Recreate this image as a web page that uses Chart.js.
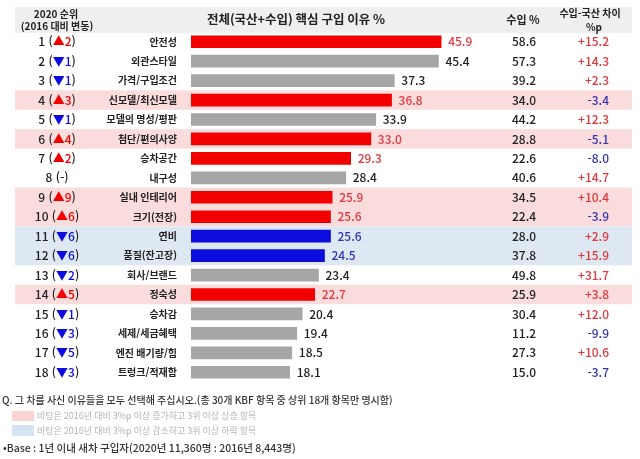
<!DOCTYPE html>
<html lang="ko">
<head>
<meta charset="utf-8">
<script src="https://cdn.jsdelivr.net/npm/chart.js@4"></script>
<style>
  body { margin: 0; background: #fff; }
  canvas { display: block; }
</style>
</head>
<body>
<canvas id="reasonChart" width="640" height="459"></canvas>
<script>
// Categories (purchase reasons), 2020 ranking order
const reasons = ['안전성', '외관스타일', '가격/구입조건', '신모델/최신모델', '모델의 명성/평판', '첨단/편의사양',
  '승차공간', '내구성', '실내 인테리어', '크기(전장)', '연비', '품질(잔고장)', '회사/브랜드', '정숙성',
  '승차감', '세제/세금혜택', '엔진 배기량/힘', '트렁크/적재함'];

// Rank change vs 2016
const rankMove = ['▲2', '▼1', '▼1', '▲3', '▼1', '▲4', '▲2', '-', '▲9', '▲6', '▼6', '▼6', '▼2', '▲5', '▼1', '▼3', '▼5', '▼3'];

// Total (domestic + imported) %
const totalPct = [45.9, 45.4, 37.3, 36.8, 33.9, 33.0, 29.3, 28.4, 25.9, 25.6, 25.6, 24.5, 23.4, 22.7, 20.4, 19.4, 18.5, 18.1];

// Imported %
const importPct = [58.6, 57.3, 39.2, 34.0, 44.2, 28.8, 22.6, 40.6, 34.5, 22.4, 28.0, 37.8, 49.8, 25.9, 30.4, 11.2, 27.3, 15.0];

// Imported - domestic gap, %p
const gapPct = [15.2, 14.3, 2.3, -3.4, 12.3, -5.1, -8.0, 14.7, 10.4, -3.9, 2.9, 15.9, 31.7, 3.8, 12.0, -9.9, 10.6, -3.7];

// Bar group: up = rising item, down = falling item, '' = other
const barGroup = ['up', '', '', 'up', '', 'up', 'up', '', 'up', 'up', 'down', 'down', '', 'up', '', '', '', ''];

// Row background: rows that moved 3%p and 3 ranks or more
const rowShade = ['', '', '', 'up', '', 'up', '', '', 'up', 'up', 'down', 'down', '', 'up', '', '', '', ''];

const RED = '#f20000', BLUE = '#0c0cdc', GRAY = '#a6a6a6';
const RED_TXT = '#e0383c', BLUE_TXT = '#3434b0';
const PINK_BG = '#fbdcdc', BLUE_BG = '#dde8f3';
const KR = '"Noto Sans CJK KR", "Noto Sans", sans-serif';

const tablePlugin = {
  id: 'tablePlugin',
  beforeDraw(chart) {
    const ctx = chart.ctx;
    const y = chart.scales.y;
    const half = (y.getPixelForValue(1) - y.getPixelForValue(0)) / 2;
    ctx.save();
    ctx.fillStyle = '#fff';
    ctx.fillRect(0, 0, chart.width, chart.height);
    // header band
    ctx.fillStyle = '#efefef';
    ctx.fillRect(15, 7, 617, 26);
    // shaded rows
    rowShade.forEach((s, i) => {
      if (!s) return;
      const c = y.getPixelForValue(i);
      ctx.fillStyle = s === 'up' ? PINK_BG : BLUE_BG;
      ctx.fillRect(15, c - half, 617, half * 2);
    });
    ctx.restore();
  },
  afterDraw(chart) {
    const ctx = chart.ctx;
    const y = chart.scales.y;
    const bars = chart.getDatasetMeta(0).data;
    ctx.save();
    ctx.textBaseline = 'middle';

    // header texts
    ctx.fillStyle = '#222';
    ctx.textAlign = 'center';
    ctx.font = 'bold 10px ' + KR;
    ctx.fillText('2020 순위', 56, 14);
    ctx.fillText('(2016 대비 변동)', 57, 26);
    ctx.fillText('수입-국산 차이', 590, 13);
    ctx.fillText('%p', 594, 27);
    ctx.font = 'bold 11px ' + KR;
    ctx.fillText('수입 %', 523, 20);
    ctx.font = 'bold 12.5px ' + KR;
    ctx.fillText('전체(국산+수입) 핵심 구입 이유 %', 296, 19);

    reasons.forEach((r, i) => {
      const cy = y.getPixelForValue(i);

      // rank column: "n (▲k)"
      ctx.font = '500 12px ' + KR;
      const move = rankMove[i];
      const moveColor = move[0] === '▲' ? RED : (move[0] === '▼' ? BLUE : '#222');
      const parts = [[(i + 1) + ' (', '#222'], [move, moveColor], [')', '#222']];
      const total = parts.reduce((w, p) => w + ctx.measureText(p[0]).width, 0);
      let x = 57 - total / 2;
      ctx.textAlign = 'left';
      parts.forEach(p => {
        ctx.fillStyle = p[1];
        ctx.fillText(p[0], x, cy);
        x += ctx.measureText(p[0]).width;
      });

      // value label after bar
      const bar = bars[i];
      ctx.font = '500 12px ' + KR;
      ctx.fillStyle = barGroup[i] === 'up' ? RED_TXT : (barGroup[i] === 'down' ? BLUE_TXT : '#222');
      ctx.textAlign = 'left';
      ctx.fillText(totalPct[i].toFixed(1), bar.x + 7, cy);

      // imported %
      ctx.fillStyle = '#222';
      ctx.textAlign = 'center';
      ctx.fillText(importPct[i].toFixed(1), 524, cy);

      // gap %p
      const g = gapPct[i];
      ctx.fillStyle = g >= 0 ? RED_TXT : BLUE_TXT;
      ctx.textAlign = 'right';
      ctx.fillText((g >= 0 ? '+' : '-') + Math.abs(g).toFixed(1), 609, cy);
    });

    // footnotes
    ctx.textAlign = 'left';
    ctx.font = '500 10px ' + KR;
    ctx.fillStyle = '#333';
    ctx.fillText('Q. 그 차를 사신 이유들을 모두 선택해 주십시오.(총 30개 KBF 항목 중 상위 18개 항목만 명시함)', 2, 400);
    ctx.fillStyle = '#fbd3d3';
    ctx.fillRect(12, 411, 22, 10);
    ctx.fillStyle = '#d6e4f2';
    ctx.fillRect(12, 425, 22, 11);
    ctx.font = '9px ' + KR;
    ctx.fillStyle = '#b4b4b4';
    ctx.fillText('바탕은 2016년 대비 3%p 이상 증가하고 3위 이상 상승 항목', 37, 416);
    ctx.fillText('바탕은 2016년 대비 3%p 이상 감소하고 3위 이상 하락 항목', 37, 431);
    ctx.font = '500 10.5px ' + KR;
    ctx.fillStyle = '#333';
    ctx.fillText('•Base : 1년 이내 새차 구입자(2020년 11,360명 : 2016년 8,443명)', 3, 448);
    ctx.restore();
  }
};

const ctx = document.getElementById('reasonChart').getContext('2d');

const reasonChart = new Chart(ctx, {
  type: 'bar',
  data: {
    labels: reasons,
    datasets: [{
      label: '전체(국산+수입) 핵심 구입 이유 %',
      data: totalPct,
      backgroundColor: barGroup.map(g => g === 'up' ? RED : (g === 'down' ? BLUE : GRAY)),
      borderWidth: 0,
      barThickness: 12
    }]
  },
  options: {
    indexAxis: 'y',
    responsive: false,
    animation: false,
    layout: { padding: { left: 0, right: 13, top: 32, bottom: 77 } },
    plugins: {
      legend: { display: false },
      tooltip: { enabled: false }
    },
    scales: {
      x: {
        min: 0,
        max: 80,
        display: false,
        grid: { display: false }
      },
      y: {
        grid: { display: false },
        border: { display: false },
        afterFit: s => { s.width = 191; },
        ticks: {
          padding: 6,
          color: '#222',
          font: { family: KR, size: 10, weight: 'bold' }
        }
      }
    }
  },
  plugins: [tablePlugin]
});
</script>
</body>
</html>
